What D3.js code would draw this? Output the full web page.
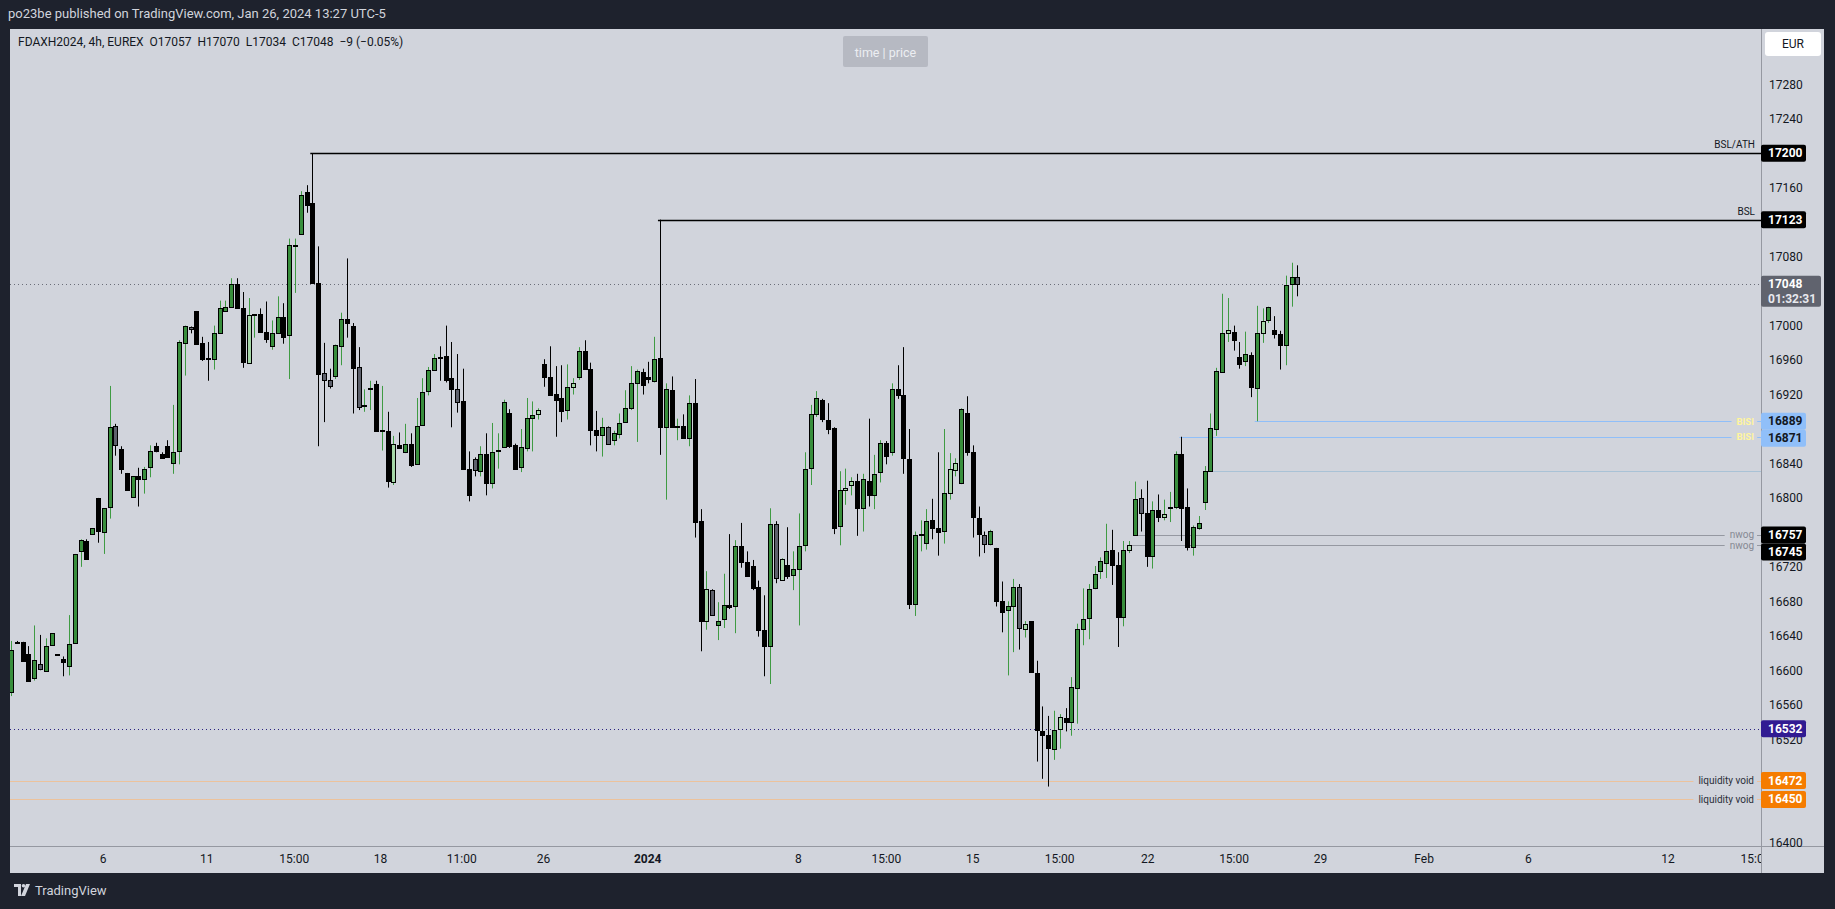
<!DOCTYPE html>
<html><head><meta charset="utf-8">
<script src="https://cdn.jsdelivr.net/npm/d3@7"></script>
<style>
html,body{margin:0;padding:0;background:#1e222d;overflow:hidden;}
svg{display:block;font-family:Roboto,"Liberation Sans",Arial,sans-serif;}
</style>
</head><body>
<svg id="c" width="1835" height="909"></svg>
<script>
// ---------------- DATA ----------------
const opens=[16575,16633,16633,16619,16591,16607,16599,16629,16619,16613,
16605,16632,16738,16750,16758,16800,16761,16789,16883,16857,
16829,16801,16825,16822,16836,16860,16851,16860,16841,16854,
16980,16998,17017,16980,16962,16961,16991,17017,17022,17048,
17021,16957,17012,17013,16993,16976,16992,17010,16989,17094,
17106,17155,17142,17049,16945,16937,16941,16976,17008,17000,
16952,16907,16926,16932,16878,16878,16819,16862,16853,16863,
16839,16885,16924,16948,16963,16965,16939,16926,16912,16833,
16845,16831,16851,16817,16854,16859,16898,16861,16836,16858,
16893,16897,16955,16940,16921,16916,16902,16929,16940,16970,
16950,16879,16873,16882,16867,16874,16888,16904,16933,16946,
16940,16936,16962,16882,16925,16882,16884,16869,16910,16773,
16657,16693,16653,16660,16676,16674,16744,16726,16721,16697,
16647,16628,16770,16705,16722,16710,16717,16745,16835,16897,
16914,16891,16881,16767,16809,16815,16820,16788,16820,16803,
16830,16864,16853,16926,16919,16845,16677,16758,16748,16774,
16765,16762,16806,16832,16817,16898,16853,16777,16757,16747,
16742,16680,16670,16674,16697,16648,16657,16597,16530,16525,
16509,16532,16545,16540,16579,16648,16661,16696,16715,16725,
16740,16722,16662,16739,16757,16800,16783,16733,16786,16778,
16789,16789,16851,16789,16743,16765,16795,16831,16880,16946,
16991,16993,16963,16959,16966,16928,16992,17006,16995,16990,
16978,17048,17057];
const highs=[16634,16634,16633,16628,16652,16641,16637,16643,16619,16616,
16664,16735,16752,16752,16765,16800,16788,16930,16886,16860,
16829,16825,16835,16836,16861,16864,16853,16867,16908,16983,
17000,16999,17017,16987,16981,17000,17029,17029,17055,17055,
17039,17032,17013,17020,17028,17006,17034,17026,17101,17101,
17156,17163,17200,17092,16980,16950,16978,17015,17078,17003,
16975,16926,16936,16936,16930,16900,16872,16876,16886,16875,
16916,16939,16952,16967,16976,17000,16981,16967,16950,16854,
16847,16860,16875,16887,16875,16914,16903,16863,16880,16916,
16912,16904,16961,16976,16953,16954,16955,16939,16975,16983,
16957,16901,16893,16883,16878,16898,16925,16953,16949,16950,
16958,16987,17123,16933,16941,16892,16897,16919,16938,16787,
16715,16694,16679,16712,16758,16751,16771,16738,16728,16704,
16687,16788,16773,16730,16766,16738,16782,16853,16908,16924,
16915,16910,16882,16831,16834,16824,16828,16828,16892,16850,
16867,16866,16933,16954,16975,16880,16761,16774,16787,16799,
16853,16880,16852,16846,16904,16918,16861,16790,16761,16763,
16742,16703,16680,16706,16700,16657,16657,16611,16558,16547,
16553,16549,16556,16592,16654,16695,16700,16721,16731,16770,
16763,16737,16750,16750,16819,16810,16820,16796,16804,16798,
16807,16854,16871,16811,16768,16779,16837,16898,16951,17037,
17032,17000,16981,16993,16969,17023,17020,17022,17011,16994,
17058,17073,17070];
const lows=[16570,16632,16611,16587,16588,16600,16598,16629,16619,16593,
16594,16632,16720,16729,16758,16748,16735,16776,16849,16828,
16809,16801,16790,16805,16824,16853,16846,16847,16828,16839,
16942,16991,16979,16959,16936,16949,16991,17017,17022,17021,
16951,16957,16986,16993,16980,16972,16992,16979,16938,17038,
17106,17131,17049,16860,16888,16927,16938,16954,16986,16898,
16902,16900,16902,16878,16855,16812,16815,16857,16852,16836,
16839,16885,16919,16948,16936,16934,16882,16899,16834,16796,
16825,16825,16803,16811,16834,16858,16858,16834,16830,16854,
16854,16891,16929,16920,16871,16888,16891,16920,16937,16950,
16861,16854,16848,16862,16861,16869,16887,16902,16865,16920,
16933,16934,16850,16798,16882,16867,16869,16860,16754,16622,
16647,16663,16635,16649,16671,16643,16719,16709,16693,16639,
16593,16584,16701,16704,16706,16693,16652,16738,16815,16894,
16888,16874,16758,16745,16792,16803,16756,16761,16790,16787,
16818,16839,16849,16915,16828,16671,16663,16738,16740,16752,
16733,16747,16798,16825,16816,16849,16754,16732,16736,16745,
16674,16644,16594,16621,16624,16638,16598,16494,16474,16465,
16496,16509,16529,16524,16538,16629,16636,16694,16706,16707,
16699,16627,16651,16736,16756,16761,16720,16718,16772,16774,
16772,16787,16750,16739,16733,16763,16786,16831,16872,16946,
16981,16971,16950,16953,16917,16889,16980,17003,16985,16949,
16954,17022,17034];
const closes=[16624,16633,16611,16588,16612,16602,16628,16643,16619,16609,
16631,16735,16751,16729,16765,16762,16788,16882,16862,16834,
16809,16825,16822,16833,16854,16855,16846,16847,16853,16981,
16999,16996,16979,16961,16962,16991,17021,17022,17048,17021,
16958,17012,17013,16993,16984,16992,17010,16987,17094,17094,
17152,17140,17050,16944,16937,16930,16977,17008,17003,16951,
16905,16908,16928,16878,16879,16820,16863,16858,16863,16838,
16884,16923,16949,16962,16963,16937,16926,16911,16834,16803,
16832,16851,16817,16853,16856,16911,16860,16834,16859,16893,
16896,16902,16940,16920,16914,16901,16929,16933,16970,16950,
16879,16873,16882,16863,16875,16887,16904,16933,16947,16931,
16938,16961,16882,16926,16882,16884,16869,16910,16772,16657,
16694,16664,16657,16676,16673,16744,16726,16709,16695,16647,
16628,16770,16707,16729,16709,16718,16744,16833,16897,16916,
16892,16880,16765,16809,16812,16820,16788,16822,16803,16828,
16864,16849,16926,16919,16846,16677,16757,16758,16773,16765,
16761,16806,16834,16841,16903,16853,16778,16758,16746,16762,
16680,16668,16675,16697,16649,16654,16598,16531,16525,16510,
16531,16546,16540,16581,16648,16660,16694,16712,16727,16738,
16722,16662,16740,16745,16799,16783,16733,16786,16778,16781,
16790,16851,16788,16743,16766,16771,16831,16881,16947,16991,
16995,16983,16955,16967,16929,16992,17005,17022,16990,16978,
17047,17057,17048];
// bar colouring: g = green, k = black, l = light green, s = slate
const tones=("gkkkgsggkk"+"gggkgkggsk"+"kgkggkkkgg"+"gskkkggggk"+"klgkkggkgg"+
"gkkkssggkk"+"sggkgklkgk"+"ggggkkkskk"+"sgkglgkkgg"+"glkkkkglgk"+
"kkgsgggggk"+"kgkgkgkgkk"+"lsggkgkkkk"+"kgslkggggg"+"kkkgllkgkg"+
"gkgkkkgggk"+"kgllgkkksg"+"kkggslkkkk"+"glkggggggg"+"kkglgskgkl"+
"ggkkgggggg"+"lkkgkglgkk"+"ggs").split("");

const xTickLabels=["6","11","15:00","18","11:00","26","2024","8","15:00","15","15:00","22","15:00","29","Feb","6","12","15:00"];
const xTickIdx=[15.8,33.7,48.8,63.7,77.7,91.8,109.8,135.8,151.0,165.9,180.9,196.1,211.0,225.9,243.8,261.8,285.9,301.0];
const yTickValues=[16400,16440,16480,16520,16560,16600,16640,16680,16720,16760,16800,16840,16880,16920,16960,17000,17040,17080,17120,17160,17200,17240,17280];

const levelPrices=[17200,17123,16889,16871,16831,16757,16745,16532,16472,16450];
const levelLabels=["BSL/ATH","BSL","BISI","BISI","","nwog","nwog","","liquidity void","liquidity void"];
const levelStartIdx=[52,112,215,202,207,194,193,null,null,null];
const levelKinds=["bsl","bsl","bisi","bisi","fvg","nwog","nwog","low","void","void"];
const countdown="01:32:31";

const headerText="po23be published on TradingView.com, Jan 26, 2024 13:27 UTC-5";
const legendText="FDAXH2024, 4h, EUREX  O17057  H17070  L17034  C17048  \u22129 (\u22120.05%)";

// ---------------- STYLES ----------------
const BG="#1e222d", PANEL="#d1d4dc", TXT="#131722";
const fills={g:"#388e3c",k:"#000000",l:"#a5d6a7",s:"#5d606b"};
const wicks={g:"#3f9b43",k:"#000000",l:"#3f9b43",s:"#000000"};
const kindStyle={
  bsl:{stroke:"#000",w:1.4,dash:null,box:"#000",boxText:"#fff",label:"#131722"},
  bisi:{stroke:"#90bff9",w:1,dash:null,box:"#90bff9",boxText:"#131722",label:"#fff59d"},
  fvg:{stroke:"#a9c2d6",w:1,dash:null,box:null},
  nwog:{stroke:"#9598a1",w:1,dash:null,box:"#000",boxText:"#fff",label:"#868993"},
  low:{stroke:"#2a237f",w:1,dash:"1,3",box:"#311b92",boxText:"#fff"},
  void:{stroke:"#ecc29c",w:1,dash:null,box:"#f57c00",boxText:"#fff",label:"#2a2e39"}
};

const PX0=10, PY0=29, PR=1761, PB=846, FR=1824, FB=873;

const svg=d3.select("#c");
svg.append("rect").attr("width",1835).attr("height",909).attr("fill",BG);
svg.append("rect").attr("x",PX0).attr("y",PY0).attr("width",FR-PX0).attr("height",FB-PY0).attr("fill",PANEL);

const x=d3.scaleLinear().domain([0,222]).range([11,1297.3]);
const y=d3.scaleLinear().domain([16396,17346.6]).range([846,27]);

const defs=svg.append("defs");
defs.append("clipPath").attr("id","plotclip").append("rect")
  .attr("x",PX0).attr("y",PY0).attr("width",PR-PX0).attr("height",PB-PY0);
defs.append("clipPath").attr("id","xclip").append("rect")
  .attr("x",PX0).attr("y",PB).attr("width",PR-PX0).attr("height",FB-PB);

const plot=svg.append("g").attr("clip-path","url(#plotclip)");

// header & legend
svg.append("text").attr("x",8).attr("y",18).attr("fill","#d1d4dc")
  .attr("font-size",13).text(headerText);
svg.append("text").attr("x",18).attr("y",46).attr("fill",TXT)
  .attr("font-size",12).attr("xml:space","preserve").style("white-space","pre").text(legendText);

// time | price button
const tp=svg.append("g");
tp.append("rect").attr("x",843).attr("y",36).attr("width",85).attr("height",31).attr("rx",2).attr("fill","#b6b9c2");
tp.append("text").attr("x",885.5).attr("y",52).attr("text-anchor","middle").attr("dominant-baseline","central")
  .attr("fill","#eceef2").attr("font-size",12.5).text("time | price");

// current price line
const last=closes[closes.length-1];
plot.append("line").attr("x1",PX0).attr("x2",PR).attr("y1",Math.round(y(last))+0.5).attr("y2",Math.round(y(last))+0.5)
  .attr("stroke","#6a6d78").attr("stroke-width",1).attr("stroke-dasharray","1,3");

// level lines
const lvl=plot.append("g");
levelPrices.forEach((p,i)=>{
  const st=kindStyle[levelKinds[i]];
  const ly=Math.round(y(p))+0.5;
  const x1=levelStartIdx[i]==null?PX0:x(levelStartIdx[i])-2;
  const ln=lvl.append("line").attr("x1",x1).attr("x2",PR).attr("y1",ly).attr("y2",ly)
    .attr("stroke",st.stroke).attr("stroke-width",st.w);
  if(st.dash) ln.attr("stroke-dasharray",st.dash);
});

// candles
const bars=opens.map((o,i)=>({i,o,h:Math.max(highs[i],o,closes[i]),l:Math.min(lows[i],o,closes[i]),c:closes[i],t:tones[i]}));
const cg=plot.append("g");
cg.selectAll("line").data(bars).join("line")
  .attr("x1",d=>Math.round(x(d.i))+0.5).attr("x2",d=>Math.round(x(d.i))+0.5)
  .attr("y1",d=>y(d.h)).attr("y2",d=>y(d.l))
  .attr("stroke",d=>wicks[d.t]).attr("stroke-width",1);
cg.selectAll("rect").data(bars).join("rect")
  .attr("x",d=>Math.round(x(d.i))-1.5)
  .attr("y",d=>Math.round(y(Math.max(d.o,d.c)))+0.5)
  .attr("width",4)
  .attr("height",d=>Math.max(1,Math.round(y(Math.min(d.o,d.c)))-Math.round(y(Math.max(d.o,d.c)))))
  .attr("fill",d=>fills[d.t]).attr("stroke","#000").attr("stroke-width",1);

// level labels
levelPrices.forEach((p,i)=>{
  const k=levelKinds[i], st=kindStyle[k], lab=levelLabels[i];
  if(!lab) return;
  const ly=y(p);
  if(k==="bsl"){
    plot.append("text").attr("x",1755).attr("y",ly-5).attr("text-anchor","end")
      .attr("font-size",10).attr("fill",st.label).text(lab);
  } else {
    const t=plot.append("text").attr("x",1754).attr("y",ly).attr("text-anchor","end")
      .attr("dominant-baseline","central").attr("font-size",k==="bisi"?9.5:10)
      .attr("font-weight",k==="bisi"?"bold":"normal").attr("fill",st.label).text(lab);
    const bb=t.node().getBBox();
    plot.insert("rect",()=>t.node()).attr("x",bb.x-5).attr("y",ly-3).attr("width",bb.width+8).attr("height",6).attr("fill",PANEL);
  }
});

// axes
svg.append("line").attr("x1",PR+0.5).attr("x2",PR+0.5).attr("y1",PY0).attr("y2",FB).attr("stroke","#9598a1");
svg.append("line").attr("x1",PX0).attr("x2",FR).attr("y1",PB+0.5).attr("y2",PB+0.5).attr("stroke","#9598a1");

// price boxes on the axis (pushed apart like the reference)
const boxes=[];
levelPrices.forEach((p,i)=>{const st=kindStyle[levelKinds[i]]; if(st.box) boxes.push({p,y:y(p),fill:st.box,col:st.boxText,h:17,w:45});});
boxes.push({p:last,y:y(last),fill:"#60636e",col:"#fff",h:31,w:60,two:true});
boxes.sort((a,b)=>a.y-b.y);
let prevBottom=-1e9;
boxes.forEach(b=>{
  let top=b.y-8.5;
  if(top<prevBottom) top=prevBottom;
  b.top=top; prevBottom=top+b.h;
});
const covered=v=>{const ty=y(v); return boxes.some(b=>ty>=b.top-1 && ty<=b.top+b.h+1);};

const yAx=svg.append("g").attr("transform",`translate(${PR},0)`)
  .call(d3.axisRight(y).tickValues(yTickValues.filter(v=>!covered(v))).tickSize(0).tickPadding(8).tickFormat(d3.format("d")));
yAx.select(".domain").remove();
yAx.selectAll("text").attr("fill",TXT).attr("font-size",12).attr("font-family","Roboto,'Liberation Sans',sans-serif");

const xWrap=svg.append("g").attr("clip-path","url(#xclip)");
const xAx=xWrap.append("g").attr("transform",`translate(0,${PB})`)
  .call(d3.axisBottom(x).tickValues(xTickIdx).tickSize(0).tickPadding(8).tickFormat((d,i)=>xTickLabels[i]));
xAx.select(".domain").remove();
xAx.selectAll("text").attr("fill",TXT).attr("font-size",12).attr("font-family","Roboto,'Liberation Sans',sans-serif")
  .attr("font-weight",(d,i)=>xTickLabels[i]==="2024"?"bold":"normal");

// EUR box
svg.append("rect").attr("x",1765).attr("y",32).attr("width",56).attr("height",24).attr("rx",3).attr("fill","#ffffff");
svg.append("text").attr("x",1793).attr("y",44).attr("text-anchor","middle").attr("dominant-baseline","central")
  .attr("font-size",12).attr("fill",TXT).text("EUR");

const bxg=svg.append("g");
boxes.forEach(b=>{
  bxg.append("rect").attr("x",PR).attr("y",b.top).attr("width",b.w).attr("height",b.h).attr("rx",2).attr("fill",b.fill);
  bxg.append("text").attr("x",1768).attr("y",b.top+8.5).attr("dominant-baseline","central")
    .attr("font-size",12).attr("font-weight","bold").attr("fill",b.col).text(String(b.p));
  if(b.two) bxg.append("text").attr("x",1768).attr("y",b.top+23.5).attr("dominant-baseline","central")
    .attr("font-size",12).attr("font-weight","bold").attr("fill","#e8e9ee").text(countdown);
});

// TradingView footer
const ft=svg.append("g").attr("transform","translate(14,884)");
ft.append("path").attr("d","M0,0 H7 V12 H4 V3 H0 Z").attr("fill","#d1d4dc");
ft.append("circle").attr("cx",9.5).attr("cy",1.8).attr("r",1.8).attr("fill","#d1d4dc");
ft.append("path").attr("d","M12,0 H16 L11,12 H7 Z").attr("fill","#d1d4dc");
svg.append("text").attr("x",35).attr("y",895).attr("font-size",13).attr("fill","#d1d4dc").text("TradingView");
</script>
</body></html>
